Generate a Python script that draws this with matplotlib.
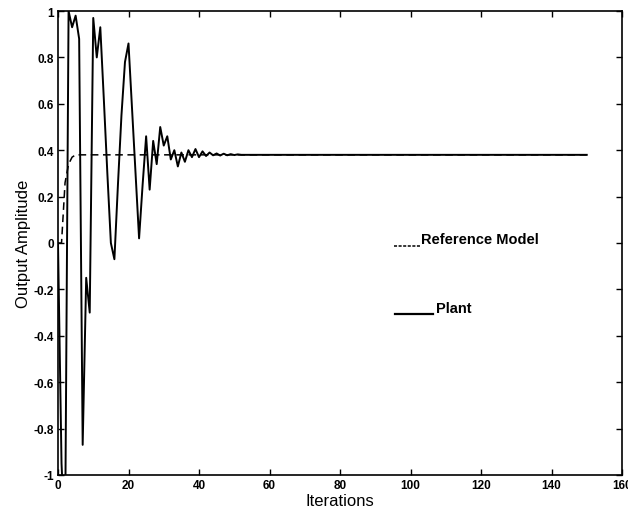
import matplotlib
matplotlib.use('Agg')
import matplotlib.pyplot as plt

# plant output (iteration, amplitude)
plant_it = [0, 1, 2, 3, 4, 5, 6, 7, 8, 9, 10, 11, 12, 13, 14, 15, 16, 17, 18, 19,
            20, 21, 22, 23, 24, 25, 26, 27, 28, 29, 30, 31, 32, 33, 34, 35, 36, 37, 38, 39,
            40, 41, 42, 43, 44, 45, 46, 47, 48, 49, 50, 51, 52, 150]
plant_y = [0.0, -0.95, -1.3, 1.0, 0.93, 0.98, 0.88, -0.87, -0.15, -0.3,
           0.97, 0.8, 0.93, 0.62, 0.3, 0.0, -0.07, 0.25, 0.55, 0.78,
           0.86, 0.58, 0.3, 0.02, 0.25, 0.46, 0.23, 0.44, 0.34, 0.5,
           0.42, 0.46, 0.36, 0.40, 0.33, 0.39, 0.35, 0.40, 0.37, 0.405,
           0.37, 0.395, 0.375, 0.39, 0.378, 0.386, 0.377, 0.385, 0.378, 0.383,
           0.379, 0.382, 0.38, 0.38]

# reference model output
ref_it = [0, 1, 2, 3, 4, 5, 150]
ref_y = [0.0, 0.0, 0.26, 0.34, 0.37, 0.38, 0.38]

xticks = [0, 20, 40, 60, 80, 100, 120, 140, 160]
yticks = [-1, -0.8, -0.6, -0.4, -0.2, 0, 0.2, 0.4, 0.6, 0.8, 1]
ytick_labels = ['-1', '-0.8', '-0.6', '-0.4', '-0.2', '0', '0.2', '0.4', '0.6', '0.8', '1']

tick_font = ['Liberation Sans Narrow', 'Liberation Sans', 'DejaVu Sans']
label_font = ['Liberation Sans', 'DejaVu Sans']

fig = plt.figure(figsize=(6.28, 5.10), dpi=100)
ax = fig.add_axes([58 / 628, 34 / 510, 564 / 628, 464 / 510])

ax.plot(ref_it, ref_y, color='black', lw=1.1, ls=(0, (5, 3)))
ax.plot(plant_it, plant_y, color='black', lw=1.4)

ax.set_xlim(0, 160)
ax.set_ylim(-1, 1)
ax.set_xticks(xticks)
ax.set_yticks(yticks)
ax.set_yticklabels(ytick_labels)
ax.tick_params(direction='in', top=True, right=True, length=4, width=1, pad=3)
for lab in ax.get_xticklabels() + ax.get_yticklabels():
    lab.set_family(tick_font)
    lab.set_fontsize(8.5)
    lab.set_fontweight('bold')
for s in ax.spines.values():
    s.set_linewidth(1.2)

ax.set_xlabel('Iterations', family=label_font, fontsize=12, labelpad=1)
ax.set_ylabel('Output Amplitude', family=label_font, fontsize=12, labelpad=2)

# hand-placed legend, as in the original figure
ax.plot([0.596, 0.641], [0.494, 0.494], transform=ax.transAxes,
        color='black', lw=1.1, ls=(0, (2, 1)))
ax.text(0.643, 0.508, 'Reference Model', transform=ax.transAxes,
        family=label_font, fontsize=10.5, fontweight='bold', va='center', ha='left')
ax.plot([0.598, 0.665], [0.346, 0.346], transform=ax.transAxes,
        color='black', lw=1.6)
ax.text(0.671, 0.360, 'Plant', transform=ax.transAxes,
        family=label_font, fontsize=10.5, fontweight='bold', va='center', ha='left')

fig.savefig('out.png', dpi=100)
